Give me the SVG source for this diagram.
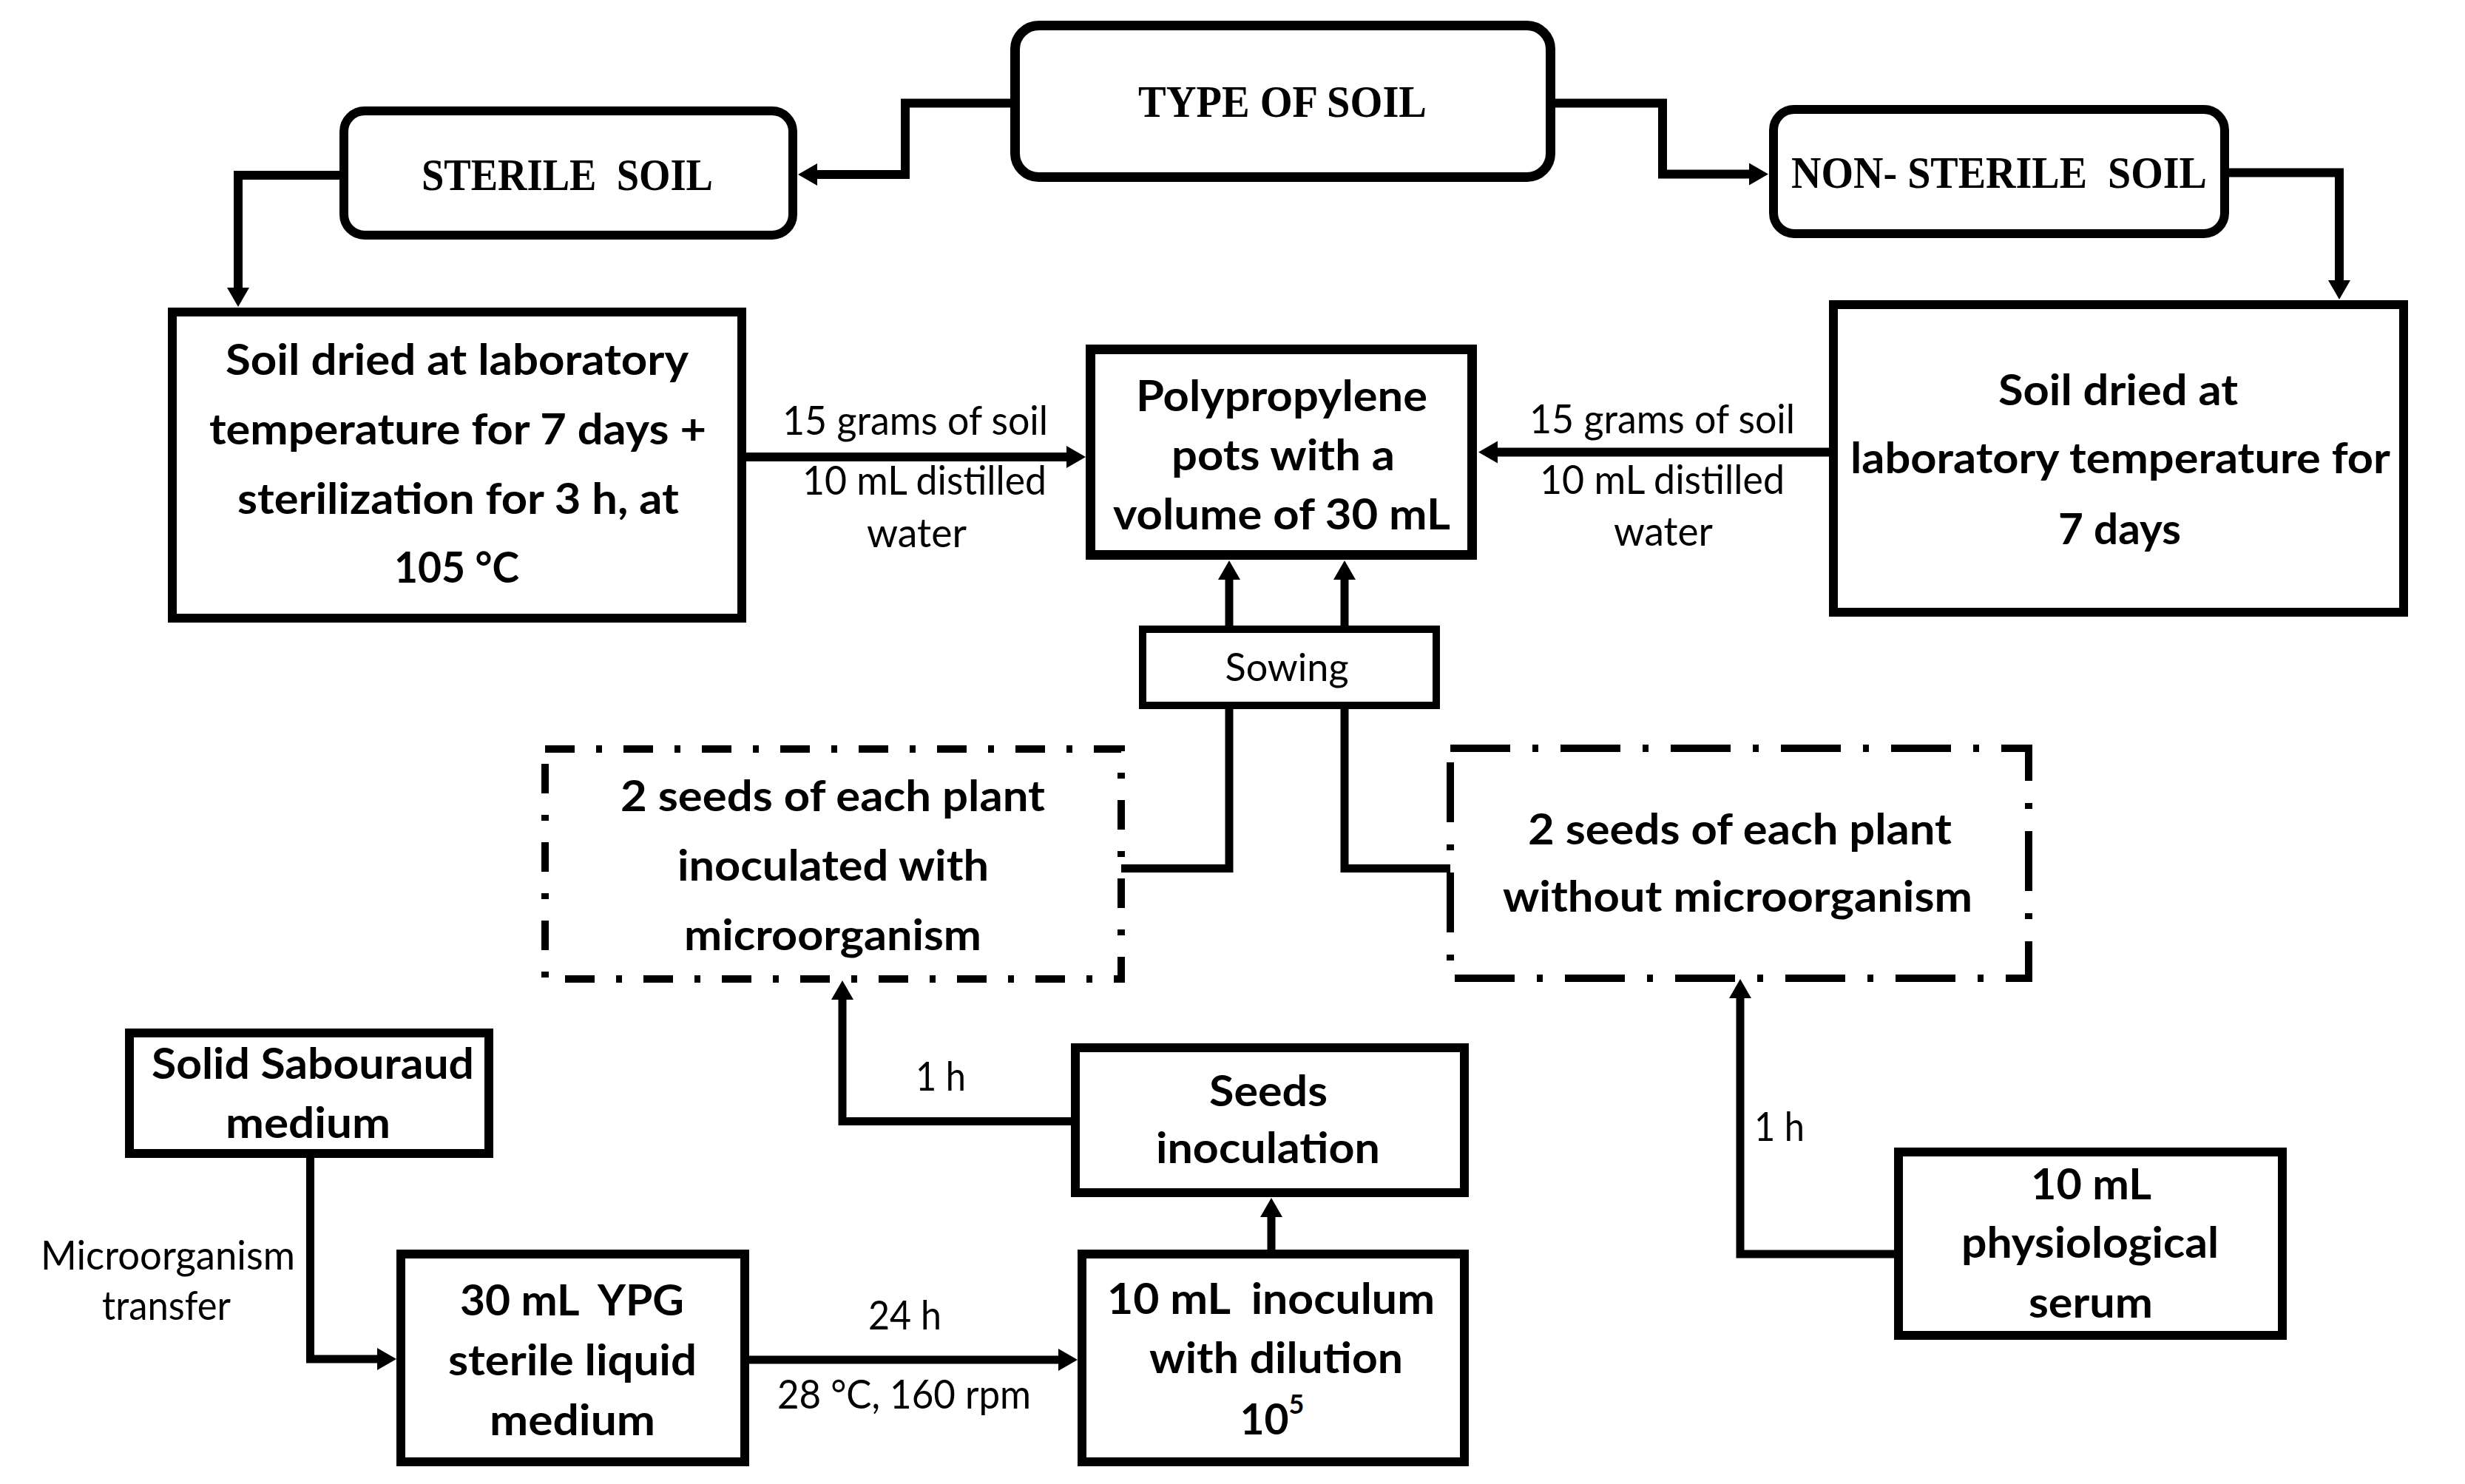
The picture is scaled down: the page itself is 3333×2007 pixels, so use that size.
<svg xmlns="http://www.w3.org/2000/svg" width="3333" height="2007" viewBox="0 0 3333 2007">
<defs>
<style>
.box{fill:#fff;stroke:#000;stroke-width:12}
.rbox{fill:#fff;stroke:#000;stroke-width:13}
.sow{fill:#fff;stroke:#000;stroke-width:10}
.d1{fill:none;stroke:#000;stroke-width:10;stroke-dasharray:40 29 8 29}
.d2{fill:none;stroke:#000;stroke-width:10;stroke-dasharray:81 30 8 30}
.c{fill:none;stroke:#000;stroke-width:12;stroke-linejoin:miter;marker-end:url(#ah)}
.cn{fill:none;stroke:#000;stroke-width:11;stroke-linejoin:miter}
.s{font-family:'Liberation Serif','Times New Roman',serif;font-weight:700;font-size:62px;text-anchor:middle;fill:#000}
.t{font-family:Lato,'Liberation Sans',sans-serif;font-weight:700;font-size:57px;text-anchor:middle;fill:#000}
.l{font-family:Lato,'Liberation Sans',sans-serif;font-weight:400;font-size:55px;text-anchor:middle;fill:#000}
</style>
<marker id="ah" markerUnits="userSpaceOnUse" markerWidth="28" markerHeight="32" refX="1" refY="15" orient="auto" overflow="visible">
<path d="M0,0 L26,15 L0,30 Z" fill="#000"/>
</marker>
</defs>
<rect width="3333" height="2007" fill="#fff"/>

<g id="connectors">
<path class="c" d="M1366,139.5 H1224 V236 H1104"/>
<path class="c" d="M2103,139.5 H2248 V235.5 H2366"/>
<path class="c" d="M459,237 H322 V390"/>
<path class="c" d="M3014,233.5 H3163 V380"/>
<path class="c" d="M1009,618 H1443"/>
<path class="c" d="M2473,611.5 H2024"/>
<path class="c" style="stroke-width:11" d="M1662,846 V783"/>
<path class="c" style="stroke-width:11" d="M1818,846 V783"/>
<path class="cn" d="M1516,1174.5 H1662 V959"/>
<path class="cn" d="M1961,1174.5 H1818 V959"/>
<path class="c" style="stroke-width:11" d="M1449,1516.5 H1139 V1351"/>
<path class="c" style="stroke-width:11" d="M1719,1690 V1645"/>
<path class="c" style="stroke-width:11" d="M2561,1696 H2353 V1349"/>
<path class="c" style="stroke-width:11" d="M419.5,1566 V1838 H511"/>
<path class="c" style="stroke-width:11" d="M1013,1839 H1432"/>
</g>

<g id="edge-labels">
<text class="l" x="1237.5" y="588" textLength="359" lengthAdjust="spacingAndGlyphs">15 grams of soil</text>
<text class="l" x="1250" y="669" textLength="330" lengthAdjust="spacingAndGlyphs">10 mL distilled</text>
<text class="l" x="1239.5" y="740" textLength="135" lengthAdjust="spacingAndGlyphs">water</text>
<text class="l" x="2247.5" y="586" textLength="359" lengthAdjust="spacingAndGlyphs">15 grams of soil</text>
<text class="l" x="2247.5" y="668" textLength="331" lengthAdjust="spacingAndGlyphs">10 mL distilled</text>
<text class="l" x="2249" y="738" textLength="134" lengthAdjust="spacingAndGlyphs">water</text>
<text class="l" x="227" y="1717" textLength="344" lengthAdjust="spacingAndGlyphs">Microorganism</text>
<text class="l" x="225" y="1785" textLength="174" lengthAdjust="spacingAndGlyphs">transfer</text>
<text class="l" x="1223.5" y="1798" textLength="99" lengthAdjust="spacingAndGlyphs">24 h</text>
<text class="l" x="1222.5" y="1905" textLength="343" lengthAdjust="spacingAndGlyphs">28 °C, 160 rpm</text>
<text class="l" x="1272" y="1475" textLength="68" lengthAdjust="spacingAndGlyphs">1 h</text>
<text class="l" x="2406" y="1543" textLength="68" lengthAdjust="spacingAndGlyphs">1 h</text>
</g>

<g id="type-of-soil">
<rect class="rbox" x="1372.5" y="34.5" width="724" height="205" rx="32" ry="32"/>
<text class="s" x="1734" y="158" textLength="390" lengthAdjust="spacingAndGlyphs">TYPE OF SOIL</text>
</g>

<g id="sterile-soil">
<rect class="box" x="465" y="150" width="607" height="168" rx="28" ry="28"/>
<text class="s" x="767" y="257" textLength="394" lengthAdjust="spacingAndGlyphs" xml:space="preserve">STERILE  SOIL</text>
</g>

<g id="non-sterile-soil">
<rect class="box" x="2398" y="148" width="610" height="168" rx="28" ry="28"/>
<text class="s" x="2703" y="254" textLength="562" lengthAdjust="spacingAndGlyphs" xml:space="preserve">NON- STERILE  SOIL</text>
</g>

<g id="sterile-drying">
<rect class="box" x="233" y="422" width="770" height="414"/>
<text class="t" x="618" y="507" textLength="626" lengthAdjust="spacingAndGlyphs">Soil dried at laboratory</text>
<text class="t" x="619" y="601" textLength="672" lengthAdjust="spacingAndGlyphs">temperature for 7 days +</text>
<text class="t" x="619.5" y="695" textLength="597" lengthAdjust="spacingAndGlyphs">sterilization for 3 h, at</text>
<text class="t" x="617.5" y="788" textLength="169" lengthAdjust="spacingAndGlyphs">105 °C</text>
</g>

<g id="nonsterile-drying">
<rect class="box" x="2479" y="412" width="771" height="416"/>
<text class="t" x="2864" y="548" textLength="324" lengthAdjust="spacingAndGlyphs">Soil dried at</text>
<text class="t" x="2867" y="640" textLength="730" lengthAdjust="spacingAndGlyphs">laboratory temperature for</text>
<text class="t" x="2866" y="736" textLength="166" lengthAdjust="spacingAndGlyphs">7 days</text>
</g>

<g id="pots">
<rect class="rbox" x="1474.5" y="472.5" width="516" height="278"/>
<text class="t" x="1733" y="556" textLength="394" lengthAdjust="spacingAndGlyphs">Polypropylene</text>
<text class="t" x="1735" y="636" textLength="302" lengthAdjust="spacingAndGlyphs">pots with a</text>
<text class="t" x="1733" y="716" textLength="456" lengthAdjust="spacingAndGlyphs">volume of 30 mL</text>
</g>

<g id="sowing">
<rect class="sow" x="1545" y="851" width="397" height="103"/>
<text class="l" x="1740" y="921" style="font-size:53px" textLength="167" lengthAdjust="spacingAndGlyphs">Sowing</text>
</g>

<g id="seeds-inoculated">
<rect class="d1" x="737" y="1013" width="779" height="311"/>
<text class="t" x="1126" y="1097" textLength="574" lengthAdjust="spacingAndGlyphs">2 seeds of each plant</text>
<text class="t" x="1126.5" y="1191" textLength="421" lengthAdjust="spacingAndGlyphs">inoculated with</text>
<text class="t" x="1126" y="1285" textLength="402" lengthAdjust="spacingAndGlyphs">microorganism</text>
</g>

<g id="seeds-control">
<rect class="d2" x="1961" y="1012" width="782" height="311"/>
<text class="t" x="2352.5" y="1142" textLength="573" lengthAdjust="spacingAndGlyphs">2 seeds of each plant</text>
<text class="t" x="2349.5" y="1233" textLength="635" lengthAdjust="spacingAndGlyphs">without microorganism</text>
</g>

<g id="sabouraud">
<rect class="box" x="175" y="1397" width="486" height="163"/>
<text class="t" x="423" y="1459" textLength="436" lengthAdjust="spacingAndGlyphs">Solid Sabouraud</text>
<text class="t" x="416.5" y="1539" textLength="223" lengthAdjust="spacingAndGlyphs">medium</text>
</g>

<g id="ypg">
<rect class="box" x="542" y="1696" width="465" height="281"/>
<text class="t" x="773.5" y="1779" textLength="303" lengthAdjust="spacingAndGlyphs" xml:space="preserve">30 mL  YPG</text>
<text class="t" x="774" y="1860" textLength="336" lengthAdjust="spacingAndGlyphs">sterile liquid</text>
<text class="t" x="774" y="1941" textLength="224" lengthAdjust="spacingAndGlyphs">medium</text>
</g>

<g id="seeds-inoculation">
<rect class="box" x="1454" y="1417" width="526" height="196"/>
<text class="t" x="1715" y="1496" textLength="160" lengthAdjust="spacingAndGlyphs">Seeds</text>
<text class="t" x="1714.5" y="1573" textLength="303" lengthAdjust="spacingAndGlyphs">inoculation</text>
</g>

<g id="inoculum">
<rect class="box" x="1463" y="1696" width="517" height="281"/>
<text class="t" x="1718.5" y="1777" textLength="443" lengthAdjust="spacingAndGlyphs" xml:space="preserve">10 mL  inoculum</text>
<text class="t" x="1725.5" y="1857" textLength="343" lengthAdjust="spacingAndGlyphs">with dilution</text>
<text class="t" x="1720" y="1940">10<tspan dy="-28" style="font-size:36px">5</tspan></text>
</g>

<g id="physiological-serum">
<rect class="box" x="2567" y="1558" width="519" height="248"/>
<text class="t" x="2827.5" y="1622" textLength="163" lengthAdjust="spacingAndGlyphs" xml:space="preserve">10 mL</text>
<text class="t" x="2826" y="1701" textLength="348" lengthAdjust="spacingAndGlyphs">physiological</text>
<text class="t" x="2827" y="1782" textLength="168" lengthAdjust="spacingAndGlyphs">serum</text>
</g>
</svg>
